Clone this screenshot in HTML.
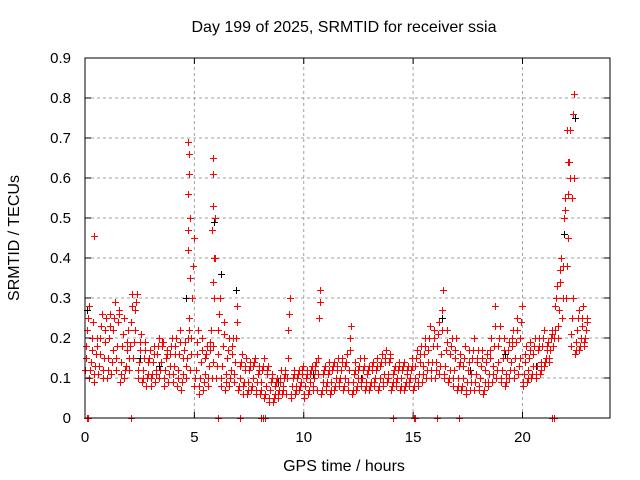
<!DOCTYPE html>
<html><head><meta charset="utf-8"><style>
body{margin:0;background:#fff}
svg{display:block;font-family:"Liberation Sans",sans-serif}
</style></head><body>
<svg id="chart" width="640" height="480" viewBox="0 0 640 480">
<text x="344" y="32" font-size="16" text-anchor="middle">Day 199 of 2025, SRMTID for receiver ssia</text>
<text x="344" y="471" font-size="16" text-anchor="middle">GPS time / hours</text>
<text transform="translate(19,238) rotate(-90)" font-size="16" text-anchor="middle">SRMTID / TECUs</text>
<g id="grid"></g><g id="marks"></g><g id="axes"></g>
</svg>
<script>
const xTicks=[0,5,10,15,20];
const yTicks=[0,0.1,0.2,0.3,0.4,0.5,0.6,0.7,0.8,0.9];
const yTickLabels=["0","0.1","0.2","0.3","0.4","0.5","0.6","0.7","0.8","0.9"];
const binStart=0, binStep=0.2;
const lo=[0.12,0.10,0.09,0.11,0.10, 0.10,0.11,0.12,0.09,0.10, 0.12,0.15,0.10,0.09,0.08, 0.08,0.09,0.10,0.08,0.09, 0.09,0.08,0.07,0.10,0.12, 0.08,0.06,0.07,0.08,0.10, 0.10,0.08,0.07,0.08,0.09, 0.07,0.06,0.06,0.07,0.06, 0.06,0.05,0.04,0.04,0.05, 0.06,0.06,0.05,0.06,0.07, 0.05,0.06,0.07,0.07,0.06, 0.07,0.06,0.07,0.08,0.07, 0.07,0.06,0.07,0.08,0.07, 0.07,0.08,0.07,0.08,0.09, 0.07,0.08,0.07,0.07,0.08, 0.07,0.08,0.09,0.10,0.10, 0.10,0.11,0.10,0.09,0.08, 0.07,0.07,0.06,0.07,0.07, 0.07,0.06,0.08,0.09,0.10, 0.09,0.08,0.10,0.10,0.11, 0.08,0.09,0.10,0.10,0.11, 0.13,0.14,0.18,0.20,0.25, 0.30,0.18,0.16,0.17,0.18];
const midA=[0.15,0.12,0.11,0.13,0.12, 0.12,0.14,0.15,0.11,0.12, 0.15,0.19,0.12,0.10,0.10, 0.10,0.11,0.12,0.10,0.11, 0.11,0.10,0.09,0.13,0.16, 0.10,0.08,0.09,0.10,0.14, 0.13,0.10,0.09,0.10,0.11, 0.08,0.08,0.07,0.08,0.07, 0.07,0.06,0.05,0.05,0.06, 0.07,0.10,0.06,0.07,0.08, 0.06,0.07,0.08,0.11,0.07, 0.08,0.07,0.08,0.09,0.08, 0.09,0.07,0.08,0.09,0.08, 0.08,0.09,0.08,0.09,0.10, 0.08,0.09,0.08,0.08,0.09, 0.08,0.09,0.11,0.12,0.12, 0.12,0.13,0.11,0.10,0.10, 0.08,0.08,0.07,0.09,0.09, 0.08,0.07,0.09,0.11,0.12, 0.10,0.09,0.12,0.12,0.13, 0.09,0.10,0.11,0.11,0.12, 0.14,0.15,0.20,0.23,0.30, 0.38,0.21,0.17,0.18,0.19];
const mid1=[0.18,0.14,0.13,0.16,0.15, 0.15,0.17,0.18,0.14,0.13, 0.18,0.22,0.14,0.12,0.11, 0.11,0.12,0.14,0.12,0.13, 0.13,0.12,0.11,0.15,0.20, 0.12,0.10,0.11,0.13,0.18, 0.16,0.13,0.11,0.12,0.14, 0.10,0.09,0.09,0.10,0.09, 0.09,0.08,0.07,0.06,0.07, 0.08,0.15,0.08,0.08,0.09, 0.08,0.09,0.10,0.15,0.09, 0.09,0.09,0.10,0.10,0.10, 0.12,0.09,0.10,0.10,0.09, 0.09,0.10,0.10,0.11,0.11, 0.09,0.10,0.10,0.09,0.10, 0.10,0.11,0.13,0.14,0.14, 0.14,0.16,0.13,0.12,0.12, 0.10,0.10,0.09,0.11,0.11, 0.10,0.09,0.11,0.13,0.14, 0.12,0.11,0.14,0.15,0.15, 0.11,0.12,0.13,0.13,0.14, 0.15,0.17,0.22,0.27,0.38, 0.45,0.25,0.19,0.20,0.20];
const mid2=[0.22,0.17,0.16,0.20,0.19, 0.20,0.22,0.24,0.18,0.17, 0.24,0.27,0.17,0.15,0.14, 0.14,0.16,0.18,0.15,0.16, 0.16,0.16,0.15,0.20,0.30, 0.16,0.14,0.15,0.17,0.30, 0.22,0.18,0.15,0.16,0.20, 0.13,0.12,0.12,0.13,0.11, 0.12,0.11,0.09,0.08,0.09, 0.10,0.22,0.10,0.10,0.11, 0.10,0.11,0.12,0.25,0.11, 0.11,0.12,0.12,0.12,0.13, 0.17,0.11,0.12,0.12,0.11, 0.12,0.12,0.13,0.14,0.14, 0.11,0.12,0.12,0.11,0.12, 0.13,0.14,0.16,0.17,0.18, 0.18,0.22,0.17,0.16,0.15, 0.13,0.13,0.12,0.15,0.14, 0.13,0.12,0.15,0.18,0.18, 0.15,0.15,0.18,0.19,0.20, 0.14,0.15,0.16,0.17,0.18, 0.17,0.20,0.28,0.34,0.50, 0.56,0.30,0.22,0.23,0.22];
const midB=[0.25,0.20,0.18,0.23,0.22, 0.23,0.25,0.26,0.21,0.19, 0.28,0.29,0.19,0.17,0.15, 0.16,0.18,0.19,0.16,0.18, 0.18,0.19,0.17,0.22,0.38, 0.19,0.17,0.16,0.19,0.40, 0.26,0.21,0.17,0.18,0.24, 0.14,0.13,0.13,0.14,0.12, 0.13,0.12,0.10,0.09,0.10, 0.11,0.26,0.11,0.11,0.12, 0.11,0.12,0.13,0.29,0.12, 0.12,0.13,0.13,0.14,0.14, 0.20,0.12,0.13,0.13,0.12, 0.13,0.13,0.14,0.15,0.15, 0.12,0.13,0.13,0.12,0.13, 0.15,0.16,0.18,0.20,0.20, 0.21,0.27,0.19,0.18,0.17, 0.14,0.15,0.14,0.17,0.15, 0.15,0.14,0.17,0.23,0.20, 0.17,0.17,0.20,0.22,0.24, 0.16,0.17,0.18,0.18,0.20, 0.18,0.21,0.30,0.37,0.52, 0.64,0.60,0.25,0.25,0.24];
const hi=[0.28,0.24,0.20,0.26,0.25, 0.26,0.29,0.27,0.25,0.22, 0.31,0.31,0.21,0.19,0.17, 0.18,0.20,0.19,0.17,0.20, 0.20,0.22,0.19,0.25,0.45, 0.22,0.20,0.18,0.22,0.50, 0.30,0.24,0.20,0.20,0.28, 0.16,0.15,0.14,0.15,0.13, 0.15,0.13,0.11,0.10,0.12, 0.12,0.30,0.12,0.12,0.13, 0.12,0.13,0.14,0.32,0.13, 0.14,0.14,0.15,0.15,0.16, 0.23,0.14,0.15,0.15,0.13, 0.14,0.15,0.16,0.17,0.16, 0.13,0.14,0.14,0.13,0.15, 0.17,0.18,0.20,0.23,0.22, 0.24,0.32,0.22,0.20,0.20, 0.16,0.18,0.17,0.20,0.17, 0.17,0.16,0.20,0.28,0.23, 0.20,0.19,0.22,0.25,0.28, 0.18,0.19,0.20,0.20,0.22, 0.19,0.22,0.33,0.40,0.55, 0.72,0.81,0.27,0.28,0.25];
const spikeHours=[0.4,4.72,4.74,4.76,4.70,4.78,4.73,4.71,4.8,5.85,5.83,5.87,5.82,5.88,5.86,5.9,22.05,22.1,22.15,22.3,22.25];
const spikeValues=[0.455,0.69,0.66,0.61,0.56,0.50,0.47,0.42,0.35,0.65,0.61,0.53,0.47,0.40,0.34,0.30,0.72,0.64,0.60,0.76,0.55];
const blackHours=[0.1,1.3,2.5,3.4,4.6,5.9,6.2,6.9,8.8,10.4,12.6,14.2,16.3,17.6,19.2,20.6,21.9,22.4];
const blackValues=[0.27,0.22,0.15,0.13,0.30,0.49,0.36,0.32,0.09,0.11,0.10,0.09,0.25,0.12,0.16,0.13,0.46,0.75];
const zeroHours=[0.08,0.15,2.1,6.1,7.1,8.05,8.15,8.25,14.1,15.05,15.1,16.1,17.1,21.35,21.45];

const X0=85,X1=610,Y0=418,Y1=58;
const xs=h=>X0+h*(X1-X0)/24;
const ys=v=>Y0-v*(Y0-Y1)/0.9;
const NS="http://www.w3.org/2000/svg";
function mk(tag,attrs,parent){const e=document.createElementNS(NS,tag);for(const k in attrs)e.setAttribute(k,attrs[k]);parent.appendChild(e);return e;}
const grid=document.getElementById('grid'),marks=document.getElementById('marks'),axes=document.getElementById('axes');
yTicks.forEach((t,i)=>{
  if(t>0&&t<0.9){const g=mk('line',{x1:X0,x2:X1,y1:ys(t),y2:ys(t),stroke:'#a0a0a0','stroke-dasharray':'3,3'},grid);
  
  }
  const l=mk('text',{x:X0-14,y:ys(t)+5,'font-size':15,'text-anchor':'end'},axes);l.textContent=yTickLabels[i];
  
  
  mk('line',{x1:X0,x2:X0+6,y1:ys(t),y2:ys(t),stroke:'#000'},axes);
  mk('line',{x1:X1,x2:X1-6,y1:ys(t),y2:ys(t),stroke:'#000'},axes);
});
xTicks.forEach(t=>{
  if(t>0){const g=mk('line',{x1:xs(t),x2:xs(t),y1:Y0,y2:Y1,stroke:'#a0a0a0','stroke-dasharray':'3,3'},grid);
  
  }
  const l=mk('text',{x:xs(t),y:Y0+24,'font-size':15,'text-anchor':'middle'},axes);l.textContent=String(t);
  
  
  mk('line',{x1:xs(t),x2:xs(t),y1:Y0,y2:Y0-6,stroke:'#000'},axes);
  mk('line',{x1:xs(t),x2:xs(t),y1:Y1,y2:Y1+6,stroke:'#000'},axes);
});
const box=mk('rect',{x:X0,y:Y1,width:X1-X0,height:Y0-Y1,fill:'none',stroke:'#000'},axes);


function plus(h,v,color,name){
  const x=Math.round(xs(h))+0.5,y=Math.round(ys(v))+0.5;
  const p=mk('path',{d:`M${x-3.5} ${y}H${x+3.5}M${x} ${y-3.5}V${y+3.5}`,stroke:color,'stroke-width':1,fill:'none'},marks);
  
  
}
blackHours.forEach((h,i)=>plus(h,blackValues[i],'#000','black-point'));
[lo,midA,mid1,mid2,midB,hi].forEach((arr,k)=>arr.forEach((v,i)=>plus(binStart+i*binStep+k*0.033,v,'#ff0000','srmtid-point')));
spikeHours.forEach((h,i)=>plus(h,spikeValues[i],'#ff0000','srmtid-spike-point'));
zeroHours.forEach(h=>plus(h,0,'#ff0000','zero-point'));
</script>
</body></html>
